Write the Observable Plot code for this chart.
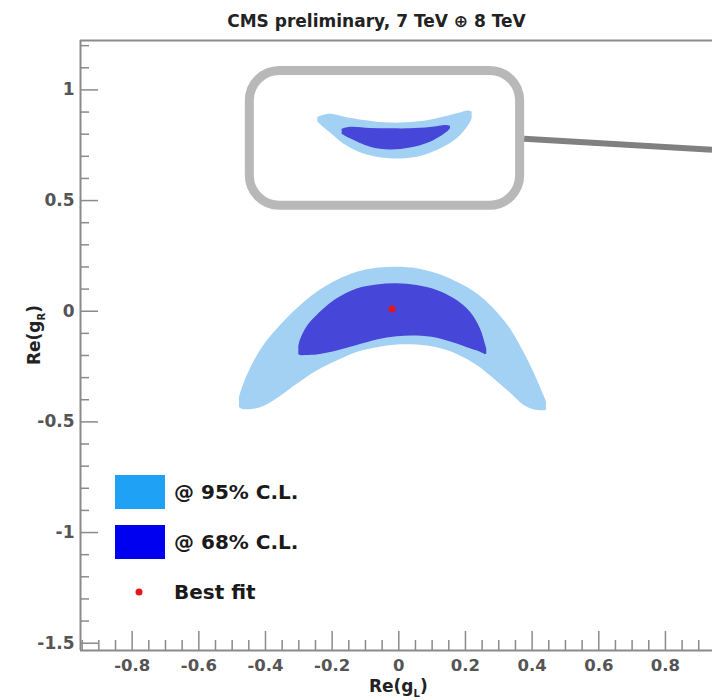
<!DOCTYPE html>
<html><head><meta charset="utf-8">
<script src="https://cdn.jsdelivr.net/npm/d3@7"></script>
<script src="https://cdn.jsdelivr.net/npm/@observablehq/plot@0.6"></script>
<style>
body{margin:0;background:#fff;}
#chart{position:relative;width:712px;height:700px;}
</style></head><body><div id="chart"></div>
<script>
// ---- data ----
const title = "CMS preliminary, 7 TeV \u2295 8 TeV";
// lower crescent, 95% C.L.
const low95X  = [-0.478,-0.47,-0.445,-0.405,-0.355,-0.305,-0.245,-0.185,-0.125,-0.065,-0.005,0.055,0.115,0.175,0.235,0.285,0.335,0.375,0.405,0.435,0.443];
const low95Hi = [-0.39,-0.35,-0.26,-0.155,-0.065,0.011,0.086,0.139,0.176,0.194,0.199,0.192,0.169,0.131,0.079,0.011,-0.08,-0.185,-0.276,-0.38,-0.41];
const low95Lo = [-0.435,-0.443,-0.445,-0.43,-0.385,-0.33,-0.27,-0.225,-0.187,-0.165,-0.153,-0.153,-0.165,-0.195,-0.245,-0.305,-0.37,-0.425,-0.445,-0.45,-0.447];
// lower crescent, 68% C.L.
const low68X  = [-0.3,-0.295,-0.275,-0.245,-0.185,-0.125,-0.065,-0.005,0.055,0.115,0.175,0.215,0.245,0.26,0.264];
const low68Hi = [-0.16,-0.13,-0.07,-0.019,0.056,0.101,0.119,0.124,0.116,0.094,0.048,-0.005,-0.08,-0.15,-0.17];
const low68Lo = [-0.195,-0.2,-0.2,-0.198,-0.18,-0.155,-0.13,-0.115,-0.112,-0.122,-0.148,-0.17,-0.185,-0.195,-0.193];
// upper crescent, 95% C.L.
const up95X  = [-0.243,-0.225,-0.205,-0.165,-0.105,-0.025,0.055,0.115,0.175,0.21,0.22];
const up95Hi = [0.875,0.885,0.89,0.878,0.862,0.85,0.855,0.87,0.892,0.905,0.9];
const up95Lo = [0.855,0.83,0.805,0.756,0.711,0.689,0.696,0.726,0.779,0.84,0.87];
// upper crescent, 68% C.L.
const up68X  = [-0.17,-0.145,-0.085,-0.025,0.035,0.095,0.145,0.155];
const up68Hi = [0.822,0.831,0.826,0.824,0.824,0.83,0.839,0.835];
const up68Lo = [0.8,0.779,0.741,0.729,0.738,0.764,0.809,0.825];
// best fit
const bestX = [-0.02];
const bestY = [0.01];
// axes
const xTicks = [-0.8,-0.6,-0.4,-0.2,0,0.2,0.4,0.6,0.8];
const xTickLabels = ["-0.8","-0.6","-0.4","-0.2","0","0.2","0.4","0.6","0.8"];
const yTicks = [1,0.5,0,-0.5,-1,-1.5];
const yTickLabels = ["1","0.5","0","-0.5","-1","-1.5"];
const xMinor = [-0.95,-0.9,-0.85,-0.75,-0.7,-0.65,-0.55,-0.5,-0.45,-0.35,-0.3,-0.25,-0.15,-0.1,-0.05,0.05,0.1,0.15,0.25,0.3,0.35,0.45,0.5,0.55,0.65,0.7,0.75,0.85,0.9];
const yMinor = [1.2,1.1,0.9,0.8,0.7,0.6,0.4,0.3,0.2,0.1,-0.1,-0.2,-0.3,-0.4,-0.6,-0.7,-0.8,-0.9,-1.1,-1.2,-1.3,-1.4];
const legendLabels = ["@ 95% C.L.","@ 68% C.L.","Best fit"];

// ---- tables ----
const band = (xs, hi, lo) => xs.map((x, i) => ({x, hi: hi[i], lo: lo[i]}));
const low95 = band(low95X, low95Hi, low95Lo);
const low68 = band(low68X, low68Hi, low68Lo);
const up95 = band(up95X, up95Hi, up95Lo);
const up68 = band(up68X, up68Hi, up68Lo);
const best = bestX.map((x, i) => ({x, y: bestY[i]}));
const xTickTable = xTicks.map((v, i) => ({v, label: xTickLabels[i]}));
const yTickTable = yTicks.map((v, i) => ({v, label: yTickLabels[i]}));
const box = [{x1: d3.min(up95X), x2: d3.max(up95X), y1: d3.min(up95Lo), y2: d3.max(up95Hi)}];

// ---- layout / style ----
const W = 712, H = 700, mL = 80, mR = 0, mT = 40, mB = 50;
const frameW = W - mL - mR, frameH = H - mT - mB;
const xDomain = [-0.955, 0.9412], yDomain = [-1.533, 1.2233];
const C95 = "#a3d1f3", C68 = "#4646d9", AX = "#8a8a8a";
const font = "DejaVu Sans, Liberation Sans, sans-serif";
const padL = 68, padR = 48, padT = 40, padB = 47;

const plot = Plot.plot({
  width: W, height: H, marginLeft: mL, marginRight: mR, marginTop: mT, marginBottom: mB,
  x: {domain: xDomain, axis: null},
  y: {domain: yDomain, axis: null},
  style: {fontFamily: font, background: "white"},
  marks: [
    Plot.areaY(low95, {x: "x", y1: "lo", y2: "hi", fill: C95, curve: "catmull-rom"}),
    Plot.areaY(up95, {x: "x", y1: "lo", y2: "hi", fill: C95, curve: "catmull-rom"}),
    Plot.areaY(low68, {x: "x", y1: "lo", y2: "hi", fill: C68, curve: "catmull-rom"}),
    Plot.areaY(up68, {x: "x", y1: "lo", y2: "hi", fill: C68, curve: "catmull-rom"}),
    Plot.dot(best, {x: "x", y: "y", r: 3.5, fill: "#e3161b"}),
    Plot.rect(box, {x1: "x1", x2: "x2", y1: "y1", y2: "y2", insetLeft: -padL, insetRight: -padR, insetTop: -padT, insetBottom: -padB,
      rx: 30, fill: "none", stroke: "#b8b8b8", strokeWidth: 9}),
    // frame (left, top, bottom)
    Plot.ruleX([xDomain[0]], {stroke: AX, strokeWidth: 2}),
    Plot.ruleY([yDomain[1], yDomain[0]], {stroke: AX, strokeWidth: 2}),
    // ticks (inward)
    Plot.tickX(xTicks, {x: d => d, insetTop: frameH - 19, stroke: AX, strokeWidth: 1.5}),
    Plot.tickX(xMinor, {x: d => d, insetTop: frameH - 10, stroke: AX, strokeWidth: 1.5}),
    Plot.tickY(yTicks, {y: d => d, insetRight: frameW - 18, stroke: AX, strokeWidth: 1.5}),
    Plot.tickY(yMinor, {y: d => d, insetRight: frameW - 9, stroke: AX, strokeWidth: 1.5}),
    // tick labels
    Plot.text(xTickTable, {x: "v", text: "label", frameAnchor: "bottom", lineAnchor: "middle", dy: 15, fontSize: 16.5, fontWeight: "bold", fill: "#555"}),
    Plot.text(yTickTable, {y: "v", text: "label", frameAnchor: "left", textAnchor: "end", dx: -6, fontSize: 17, fontWeight: "bold", fill: "#555"}),
    // title
    Plot.text([title], {text: d => d, frameAnchor: "top", lineAnchor: "middle", dy: -19, dx: -20, fontSize: 17, fontWeight: "bold", fill: "#222"})
  ]
});
document.getElementById("chart").appendChild(plot);

// ---- annotations: callout pointer, axis titles, legend ----
const svg = d3.select(plot);
const sx = plot.scale("x"), sy = plot.scale("y");
const bx2 = sx.apply(box[0].x2) + padR;
const byMid = (sy.apply(box[0].y2) - padT + sy.apply(box[0].y1) + padB) / 2;
svg.append("line")
  .attr("x1", bx2 + 4.5).attr("y1", byMid + 1).attr("x2", W).attr("y2", byMid + 12)
  .attr("stroke", "#808080").attr("stroke-width", 6);

function axisTitle(g, main, sub) {
  const t = g.append("text").attr("font-family", font).attr("font-weight", "bold").attr("font-size", 17)
    .attr("fill", "#222").attr("text-anchor", "middle");
  t.append("tspan").text(main);
  t.append("tspan").attr("font-size", 10).attr("dy", 5).text(sub);
  t.append("tspan").attr("dy", -5).text(")");
  return t;
}
axisTitle(svg, "Re(g", "L").attr("transform", `translate(${sx.apply(0)},692)`);
axisTitle(svg, "Re(g", "R").attr("transform", `translate(40,335) rotate(-90)`);

const lg = svg.append("g");
const legendFills = ["#1fa2f6", "#0000f0"];
legendLabels.forEach((lab, i) => {
  const cy = 492 + i * 50;
  if (i < 2) lg.append("rect").attr("x", 115).attr("y", cy - 17).attr("width", 50).attr("height", 34).attr("fill", legendFills[i]);
  else lg.append("circle").attr("cx", 139).attr("cy", cy).attr("r", 3.5).attr("fill", "#e3161b");
  lg.append("text").attr("x", 174).attr("y", cy).attr("dy", "0.36em").attr("text-anchor", "start")
    .attr("font-family", font).attr("font-weight", "bold")
    .attr("font-size", 20).attr("fill", "#1a1a1a").text(lab);
});
</script></body></html>
